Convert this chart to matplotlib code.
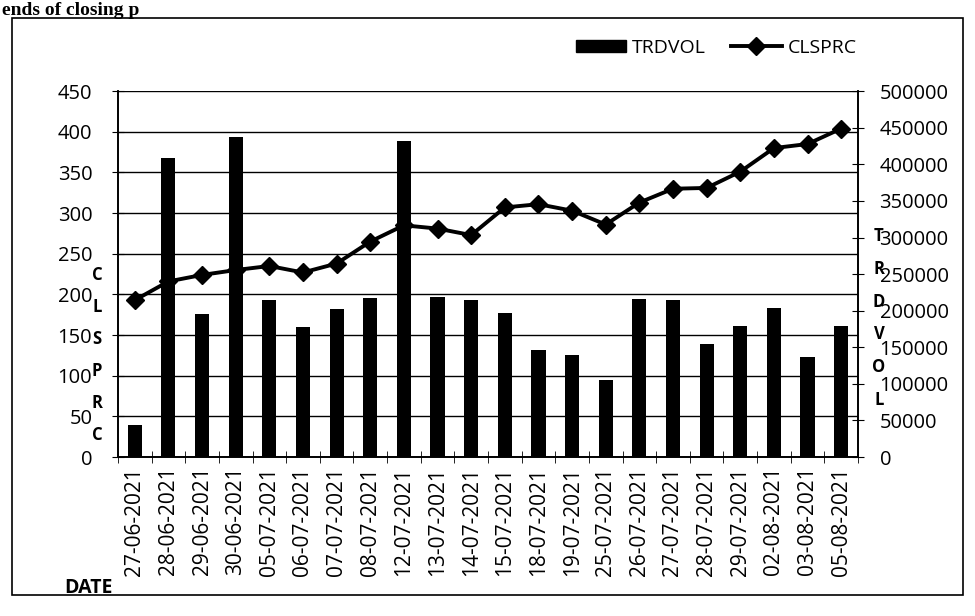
import matplotlib
matplotlib.use("Agg")
import matplotlib.pyplot as plt
import numpy as np
from matplotlib.patches import Rectangle, Patch
from matplotlib.lines import Line2D

# ---- data ----
dates = ["27-06-2021", "28-06-2021", "29-06-2021", "30-06-2021", "05-07-2021",
         "06-07-2021", "07-07-2021", "08-07-2021", "12-07-2021", "13-07-2021",
         "14-07-2021", "15-07-2021", "18-07-2021", "19-07-2021", "25-07-2021",
         "26-07-2021", "27-07-2021", "28-07-2021", "29-07-2021", "02-08-2021",
         "03-08-2021", "05-08-2021"]
trdvol = [44000, 409000, 196000, 437000, 215000, 178000, 203000, 217000, 432000, 219000,
          215000, 197000, 146000, 140000, 106000, 216000, 214000, 154000, 179000, 204000,
          137000, 179000]
clsprc = [193, 216, 224, 230, 235, 227, 238, 265, 285, 281,
          273, 307, 311, 303, 286, 313, 330, 331, 351, 380,
          385, 404]
left_ticks = list(range(0, 451, 50))
right_ticks = list(range(0, 500001, 50000))

plt.rcParams['font.family'] = ['Open Sans', 'DejaVu Sans']

fig = plt.figure(figsize=(9.75, 6.16), dpi=100)

# chart border + page text above it
fig.patches.append(Rectangle((12 / 975, 1 - 595 / 616), 951 / 975, 577 / 616,
                             transform=fig.transFigure, fill=False, ec='black', lw=1.2))
fig.text(0.002, 1 - 15 / 616, "ends of closing p", family='Liberation Serif', weight='bold',
         fontsize=14, va='baseline', ha='left')

ax = fig.add_axes([0.121, 0.258, 0.759, 0.594])   # bars -> right scale
ax2 = ax.twinx()                                 # line -> left scale

x = np.arange(len(dates))
ax.bar(x, trdvol, width=0.42, color='black', zorder=2)
ax.set_ylim(0, 500000)
ax.set_yticks(right_ticks)
ax.set_yticklabels([str(v) for v in right_ticks])
ax.yaxis.tick_right()

ax2.plot(x, clsprc, color='black', lw=2.8, marker='D', ms=9, zorder=3)
ax2.set_ylim(0, 450)
ax2.set_yticks(left_ticks)
ax2.yaxis.tick_left()
ax2.grid(axis='y', color='black', lw=1)

ax.set_xlim(-0.5, len(dates) - 0.5)
ax.set_xticks(x)
ax.set_xticklabels(dates, rotation=90)
ax.set_xticks(np.arange(-0.5, len(dates), 1), minor=True)
ax.tick_params(axis='x', which='major', length=0, pad=7, labelsize=15)
ax.tick_params(axis='x', which='minor', direction='inout', length=8)
ax.tick_params(axis='y', direction='inout', length=9, pad=11, labelsize=14.5)
ax2.tick_params(axis='y', direction='inout', length=9, pad=14, labelsize=14.5)

for a in (ax, ax2):
    a.spines['top'].set_visible(False)
    for s in ('left', 'right', 'bottom'):
        a.spines[s].set_color('black')
        a.spines[s].set_linewidth(1.2)

# stacked axis titles as in the original
fig.text(97 / 975, 1 - 355 / 616, "\n".join("CLSPRC"), weight='bold', fontsize=12,
         ha='center', va='center', linespacing=2.0)
fig.text(879 / 975, 1 - 318 / 616, "\n".join("TRDVOL"), weight='bold', fontsize=12,
         ha='center', va='center', linespacing=2.05)
fig.text(88 / 975, 1 - 588 / 616, "DATE", weight='bold', fontsize=14,
         ha='center', va='center')

handles = [Patch(facecolor='black', edgecolor='black'),
           Line2D([], [], color='black', lw=2.8, marker='D', ms=9)]
fig.legend(handles, ["TRDVOL", "CLSPRC"], loc='center left',
           bbox_to_anchor=(558 / 975, 1 - 48 / 616), ncol=2, frameon=False,
           fontsize=14, handlelength=2.6, handleheight=0.6, handletextpad=0.3,
           columnspacing=1.3)

fig.savefig("out.png", dpi=100)
